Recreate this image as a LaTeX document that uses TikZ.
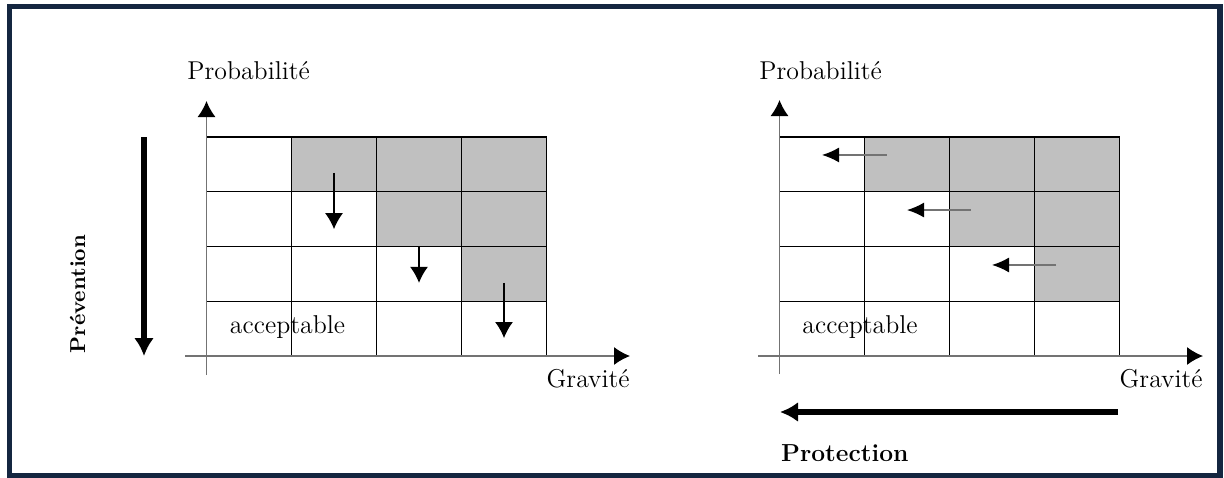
\documentclass[tikz,border=0pt]{standalone}
\usepackage{fontspec}
\usetikzlibrary{arrows.meta,positioning,calc}
\definecolor{framecol}{RGB}{20,38,64}
\definecolor{hotgray}{RGB}{192,192,192}
\tikzset{
cell/.style = {draw, rectangle, minimum width=42.5pt, minimum height=27.375pt, inner sep=0pt, outer sep=0pt, line width=0.7pt},
axis/.style = {draw=black!55, line width=0.7pt, -{Latex[length=8pt,width=9pt,color=black]}},
down arrow/.style = {line width=0.7pt, -{Latex[length=8pt,width=9pt]}},
left arrow/.style = {draw=black!55, line width=0.7pt, -{Latex[length=8.5pt,width=7.5pt,color=black]}},
big arrow/.style = {line width=2.8pt, -{Latex[length=9pt,width=10pt]}},
lbl/.style = {inner sep=0pt, font=\fontsize{12.9}{15}\selectfont},
blbl/.style = {inner sep=0pt, font=\fontsize{12.3}{14}\selectfont\bfseries}
}
\begin{document}
\begin{tikzpicture}[x=0.5pt, y=-0.5pt]
    \useasboundingbox (0,0) rectangle (1224,477);
    \draw[framecol, line width=2.75pt] (9.7,6.7) rectangle (1220,475.5);

    % the two risk matrices
    \foreach \r in {1,...,4}
      \foreach \c in {1,...,4} {
        \ifnum\c>\r \def\cellfill{hotgray}\else\def\cellfill{white}\fi
        \node[cell, fill=\cellfill] (l-\r-\c) at ({206.5+85*(\c-0.5)},{137+54.75*(\r-0.5)}) {};
        \node[cell, fill=\cellfill] (r-\r-\c) at ({779.5+85*(\c-0.5)},{137+54.75*(\r-0.5)}) {};
      }

    \node[lbl, anchor=base] (lacc) at (287.5,333) {acceptable};
    \node[lbl, anchor=base] (racc) at (860,333) {acceptable};

    % axes
    \coordinate (lyb) at (206.5,375);
    \coordinate (lyt) at (206.5,101);
    \coordinate (lxa) at (185,356);
    \coordinate (lxb) at (630,356);
    \coordinate (ryb) at (779.5,374);
    \coordinate (ryt) at (779.5,100);
    \coordinate (rxa) at (758,356);
    \coordinate (rxb) at (1203,356);
    \draw[axis] (lyb) -- (lyt);
    \draw[axis] (lxa) -- (lxb);
    \draw[axis] (ryb) -- (ryt);
    \draw[axis] (rxa) -- (rxb);

    \node[lbl, anchor=base west] (lprob) at (187,79) {Probabilité};
    \node[lbl, anchor=base west] (rprob) at (759,79) {Probabilité};
    \node[lbl, anchor=base east] (lgrav) at (630,387) {Gravité};
    \node[lbl, anchor=base east] (rgrav) at (1203,387) {Gravité};

    % prevention lowers the probability
    \draw[down arrow] ([yshift=-4.3pt]l-1-2.center) -- ([yshift=-5pt]l-2-2.center);
    \draw[down arrow] ([yshift=-0.25pt]l-3-3.north) -- ([yshift=-4.5pt]l-3-3.center);
    \draw[down arrow] ([yshift=-4.5pt]l-3-4.center) -- ([yshift=-4.7pt]l-4-4.center);

    % protection lowers the severity
    \draw[left arrow] ([shift={(11pt,4.7pt)}]r-1-2.west) -- ([yshift=4.7pt]r-1-1.center);
    \draw[left arrow] ([shift={(10.5pt,4.55pt)}]r-2-3.west) -- ([yshift=4.55pt]r-2-2.center);
    \draw[left arrow] ([shift={(10.8pt,4.45pt)}]r-3-4.west) -- ([yshift=4.45pt]r-3-3.center);

    \coordinate (prevA) at (144,137);
    \coordinate (prevB) at (144,356);
    \draw[big arrow] (prevA) -- (prevB);
    \node[inner sep=0pt, font=\fontsize{10.8}{12}\selectfont\bfseries, rotate=90, anchor=base] (prev) at (85,294) {Prévention};

    \coordinate (protA) at (1118,412);
    \coordinate (protB) at (780,412);
    \draw[big arrow] (protA) -- (protB);
    \node[blbl, anchor=base west] (prot) at (780.7,461) {Protection};
\end{tikzpicture}
\end{document}
